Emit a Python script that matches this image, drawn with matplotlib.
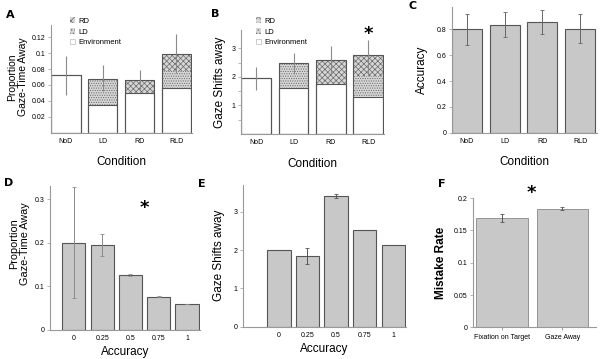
import numpy as np
import matplotlib.pyplot as plt
from matplotlib.patches import Patch

# Panel A/B: stacked gaze-away components per condition
conditions = ['NoD', 'LD', 'RD', 'RLD']
env_a = [0.072, 0.035, 0.050, 0.056]
ld_a = [0.0, 0.033, 0.0, 0.021]
rd_a = [0.0, 0.0, 0.016, 0.022]
lo_a = [0.047, 0.052, 0.052, 0.075]
hi_a = [0.096, 0.085, 0.079, 0.124]

env_b = [1.95, 1.60, 1.75, 1.30]
ld_b = [0.0, 0.87, 0.0, 0.72]
rd_b = [0.0, 0.0, 0.83, 0.75]
lo_b = [1.53, 2.10, 2.08, 2.10]
hi_b = [2.35, 2.85, 3.08, 3.30]

# Panel C: accuracy per condition
acc_c = [0.80, 0.83, 0.855, 0.80]
lo_c = [0.68, 0.74, 0.76, 0.69]
hi_c = [0.92, 0.93, 0.95, 0.915]

# Panels D/E: by accuracy level
acc_levels = ['0', '0.25', '0.5', '0.75', '1']
prop_d = [0.200, 0.195, 0.125, 0.075, 0.058]
err_d = [0.127, 0.025, 0.003, 0.001, 0.0]
shifts_e = [2.00, 1.85, 3.40, 2.52, 2.12]
err_e = [0.01, 0.21, 0.05, 0.01, 0.0]

# Panel F: mistake rate
fix_labels = ['Fixation on Target', 'Gaze Away']
mistake_f = [0.169, 0.184]
err_f = [0.0065, 0.0025]

plt.rcParams['font.family'] = ['Liberation Sans', 'DejaVu Sans']
plt.rcParams['hatch.linewidth'] = 0.5
fig = plt.figure(figsize=(6.0, 3.59), dpi=100)

BAR = '#c8c8c8'
EDGE = '#555555'
SPINE = '#999999'
ERR = '#8a8a8a'
HATCH = '#6a6a6a'
HFILL = '#d6d6d6'
LBL = 8.5


def style(ax):
    for s in ['top', 'right']:
        ax.spines[s].set_visible(False)
    for s in ['left', 'bottom']:
        ax.spines[s].set_color(SPINE)
        ax.spines[s].set_linewidth(0.8)
    ax.tick_params(axis='y', labelsize=5, length=2, width=0.5, color=SPINE, pad=2)
    ax.tick_params(axis='x', labelsize=5, length=0, pad=4)


def stacked(ax, env, ld, rd, lo, hi):
    x = np.arange(len(conditions))
    env = np.array(env)
    ld = np.array(ld)
    rd = np.array(rd)
    ax.bar(x, env, 0.8, color='white', edgecolor=EDGE, linewidth=0.8)
    ax.bar(x, ld, 0.8, bottom=env, color=HFILL, edgecolor=HATCH,
           hatch='.......', linewidth=0)
    ax.bar(x, rd, 0.8, bottom=env + ld, color=HFILL, edgecolor=HATCH,
           hatch='xxxxxx', linewidth=0)
    top = env + ld + rd
    # outline around full stacks
    ax.bar(x, top, 0.8, fill=False, edgecolor=EDGE, linewidth=0.8)
    mid = (np.array(lo) + np.array(hi)) / 2
    ax.errorbar(x, mid, yerr=(np.array(hi) - np.array(lo)) / 2, fmt='none',
                ecolor=ERR, elinewidth=0.8, capsize=0)
    ax.set_xticks(x)
    ax.set_xticklabels(conditions)
    ax.set_xlim(-0.4, 3.42)
    style(ax)


def legend(x, y):
    handles = [Patch(facecolor=HFILL, edgecolor=HATCH, hatch='xxxx', linewidth=0, label='RD'),
               Patch(facecolor=HFILL, edgecolor=HATCH, hatch='.....', linewidth=0, label='LD'),
               Patch(facecolor='white', edgecolor='#bbbbbb', linewidth=0.5, label='Environment')]
    fig.legend(handles=handles, loc='upper left', bbox_to_anchor=(x, y), frameon=False,
               fontsize=5.5, handlelength=0.7, handleheight=0.7, labelspacing=0.45,
               handletextpad=0.4, borderpad=0)


def letter(x_px, y_px, s):
    fig.text(x_px / 600, 1 - y_px / 359, s, fontsize=8, fontweight='bold',
             ha='center', va='center', family='DejaVu Sans')


# Panel A
axA = fig.add_axes([0.085, 0.63, 0.235, 0.30])
stacked(axA, env_a, ld_a, rd_a, lo_a, hi_a)
axA.set_ylim(0, 0.135)
axA.set_yticks([0.02, 0.04, 0.06, 0.08, 0.1, 0.12])
axA.set_yticklabels(['0.02', '0.04', '0.06', '0.08', '0.1', '0.12'])
axA.set_ylabel('Proportion\nGaze-Time Away', fontsize=7.5, linespacing=1.05)
axA.yaxis.set_label_coords(-0.165, 0.52)
axA.set_xlabel('Condition', fontsize=LBL, labelpad=8)
legend(0.11, 0.962)
letter(10, 15, 'A')

# Panel B
axB = fig.add_axes([0.402, 0.627, 0.238, 0.29])
stacked(axB, env_b, ld_b, rd_b, lo_b, hi_b)
axB.set_ylim(0, 3.65)
axB.set_yticks([0.5, 1, 1.5, 2, 2.5, 3])
axB.set_yticklabels(['', '1', '', '2', '', '3'])
axB.set_ylabel('Gaze Shifts away', fontsize=LBL, labelpad=4)
axB.set_xlabel('Condition', fontsize=LBL, labelpad=8)
axB.text(3, 3.52, '*', ha='center', va='center', fontsize=13, fontweight='bold',
         family='DejaVu Sans')
legend(0.42, 0.962)
letter(215, 14, 'B')

# Panel C
axC = fig.add_axes([0.753, 0.63, 0.242, 0.35])
xc = np.arange(len(conditions))
axC.bar(xc, acc_c, 0.8, color=BAR, edgecolor=EDGE, linewidth=0.8)
mid_c = (np.array(lo_c) + np.array(hi_c)) / 2
axC.errorbar(xc, mid_c, yerr=(np.array(hi_c) - np.array(lo_c)) / 2, fmt='none',
             ecolor='#666666', elinewidth=0.7, capsize=1.5, capthick=0.6)
axC.set_xticks(xc)
axC.set_xticklabels(conditions)
axC.set_xlim(-0.4, 3.45)
axC.set_ylim(0, 0.97)
axC.set_yticks([0, 0.2, 0.4, 0.6, 0.8])
axC.set_yticklabels(['0', '0.2', '0.4', '0.6', '0.8'])
style(axC)
axC.set_ylabel('Accuracy', fontsize=LBL, labelpad=6)
axC.set_xlabel('Condition', fontsize=LBL, labelpad=8)
letter(413, 6, 'C')

# Panel D
axD = fig.add_axes([0.083, 0.082, 0.25, 0.40])
xd = np.arange(len(acc_levels))
axD.bar(xd, prop_d, 0.82, color=BAR, edgecolor=EDGE, linewidth=0.8)
axD.errorbar(xd, prop_d, yerr=err_d, fmt='none', ecolor=ERR, elinewidth=0.7,
             capsize=1.5, capthick=0.6)
axD.set_xticks(xd)
axD.set_xticklabels(acc_levels)
axD.set_xlim(-0.85, 4.45)
axD.set_ylim(0, 0.33)
axD.set_yticks([0, 0.1, 0.2, 0.3])
axD.set_yticklabels(['0', '0.1', '0.2', '0.3'])
style(axD)
axD.set_ylabel('Proportion\nGaze-Time Away', fontsize=7.8, linespacing=1.05)
axD.yaxis.set_label_coords(-0.135, 0.6)
axD.set_xlabel('Accuracy', fontsize=LBL, labelpad=3)
axD.text(2.5, 0.28, '*', ha='center', va='center', fontsize=13, fontweight='bold',
         family='DejaVu Sans')
letter(9, 183, 'D')

# Panel E
axE = fig.add_axes([0.405, 0.09, 0.272, 0.395])
axE.bar(xd, shifts_e, 0.82, color=BAR, edgecolor=EDGE, linewidth=0.8)
axE.errorbar(xd, shifts_e, yerr=err_e, fmt='none', ecolor='#555555', elinewidth=0.7,
             capsize=1.5, capthick=0.6)
axE.set_xticks(xd)
axE.set_xticklabels(acc_levels)
axE.set_xlim(-1.25, 4.45)
axE.set_ylim(0, 3.7)
axE.set_yticks([0, 1, 2, 3])
axE.set_yticklabels(['0', '1', '2', '3'])
style(axE)
axE.set_ylabel('Gaze Shifts away', fontsize=LBL, labelpad=6)
axE.set_xlabel('Accuracy', fontsize=LBL, labelpad=3)
letter(202, 184, 'E')

# Panel F
axF = fig.add_axes([0.788, 0.088, 0.205, 0.36])
xf = np.arange(len(fix_labels))
axF.bar(xf, mistake_f, 0.85, color=BAR, edgecolor='#888888', linewidth=0.6)
axF.errorbar(xf, mistake_f, yerr=err_f, fmt='none', ecolor='#555555', elinewidth=0.7,
             capsize=1.5, capthick=0.6)
axF.set_xticks(xf)
axF.set_xticklabels(fix_labels)
axF.set_xlim(-0.48, 1.55)
axF.set_ylim(0, 0.2)
axF.set_yticks([0, 0.05, 0.1, 0.15, 0.2])
axF.set_yticklabels(['0', '0.05', '0.1', '0.15', '0.2'])
style(axF)
axF.tick_params(axis='x', length=2, width=0.5, color='#777777', pad=3)
axF.set_ylabel('Mistake Rate', fontsize=LBL, labelpad=5, fontweight='bold')
axF.text(0.49, 0.208, '*', ha='center', va='center', fontsize=13, fontweight='bold',
         family='DejaVu Sans', clip_on=False)
letter(442, 184, 'F')

fig.savefig('out.png', dpi=100)
